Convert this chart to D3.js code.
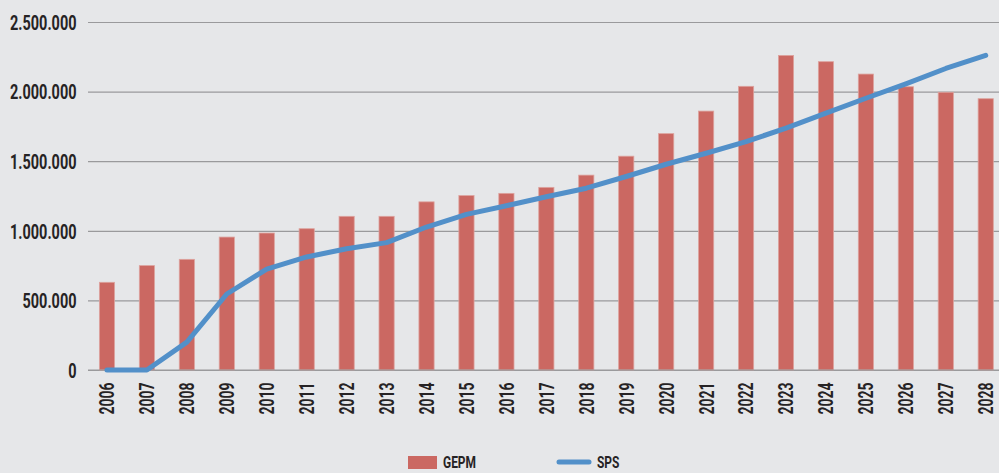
<!DOCTYPE html>
<html>
<head>
<meta charset="utf-8">
<script src="https://cdn.jsdelivr.net/npm/d3@7"></script>
<style>
  html, body { margin: 0; padding: 0; background: #e6e7e9; }
  svg { display: block; }
  text { font-family: Roboto, "DejaVu Sans Condensed", sans-serif; font-weight: 700; fill: #262324; }
</style>
</head>
<body>
<svg id="chart" width="999" height="473"></svg>
<script>
const years = ["2006","2007","2008","2009","2010","2011","2012","2013","2014","2015","2016","2017","2018","2019","2020","2021","2022","2023","2024","2025","2026","2027","2028"];
const gepm = [630000, 750000, 795000, 955000, 984000, 1015000, 1104000, 1104000, 1208000, 1253000, 1269000, 1312000, 1400000, 1536000, 1698000, 1860000, 2038000, 2260000, 2215000, 2126000, 2035000, 1995000, 1949000];
const sps = [0, 0, 200000, 546000, 725000, 812000, 871000, 915000, 1027000, 1118000, 1180000, 1245000, 1306000, 1390000, 1478000, 1557000, 1641000, 1737000, 1845000, 1952000, 2056000, 2166000, 2260000];
const yTicks = [0, 500000, 1000000, 1500000, 2000000, 2500000];
const seriesNames = ["GEPM", "SPS"];

const svg = d3.select("#chart");
const W = 999, H = 473;
svg.append("rect").attr("width", W).attr("height", H).attr("fill", "#e6e7e9");

const x = d3.scaleBand().domain(years).range([87, 1005.7]).paddingInner(0.62).paddingOuter(0.31);
const y = d3.scaleLinear().domain([0, 2500000]).range([370, 22]);

const loc = d3.formatLocale({decimal: ",", thousands: ".", grouping: [3], currency: ["", "€"]});
const fmt = loc.format(",d");

// condense text horizontally so that a reference string gets a target width
function condense(sel, refText, targetWidth) {
  let k = 1;
  sel.each(function() { if (this.textContent === refText) k = targetWidth / this.getComputedTextLength(); });
  sel.each(function() {
    const w = this.getComputedTextLength();
    d3.select(this).attr("textLength", w * k).attr("lengthAdjust", "spacingAndGlyphs");
  });
}

// gridlines + y labels
const yAxis = d3.axisLeft(y).tickValues(yTicks).tickFormat(fmt).tickSize(-(W - 88)).tickPadding(12);
const gy = svg.append("g").attr("transform", "translate(88,0)").call(yAxis);
gy.select(".domain").remove();
gy.selectAll(".tick line").attr("stroke", "#9a9a9c").attr("stroke-width", 1.2);
const ylab = gy.selectAll(".tick text").attr("font-size", 20).attr("fill", "#262324").attr("x", -11.5).attr("dy", "0.36em");
condense(ylab, "2.500.000", 66.5);

// bars
svg.append("g").selectAll("rect").data(years).join("rect")
  .attr("x", d => x(d))
  .attr("width", x.bandwidth())
  .attr("y", (d, i) => y(gepm[i]))
  .attr("height", (d, i) => y(0) - y(gepm[i]))
  .attr("fill", "#cb6862")
  .attr("stroke", "#dda39e")
  .attr("stroke-width", 0.8);

// baseline
svg.append("line").attr("x1", 88).attr("x2", W).attr("y1", y(0)).attr("y2", y(0))
  .attr("stroke", "#9a9a9c").attr("stroke-width", 1.2);

// SPS line
const line = d3.line().x((d, i) => x(years[i]) + x.bandwidth() / 2).y(d => y(d));
svg.append("path").datum(sps).attr("d", line)
  .attr("fill", "none").attr("stroke", "#5290c9").attr("stroke-width", 5)
  .attr("stroke-linecap", "round").attr("stroke-linejoin", "round");

// x labels
const xAxis = d3.axisBottom(x).tickSize(0).tickPadding(0);
const gx = svg.append("g").attr("transform", `translate(0,${y(0)})`).call(xAxis);
gx.select(".domain").remove();
const xlab = gx.selectAll(".tick text")
  .attr("font-size", 20.5).attr("fill", "#262324")
  .attr("transform", "rotate(-90)")
  .attr("text-anchor", "end")
  .attr("x", -12.5).attr("y", 0).attr("dy", "0.36em");
condense(xlab, "2006", 32);

// legend
const lg = svg.append("g");
lg.append("rect").attr("x", 408).attr("y", 456).attr("width", 29).attr("height", 13).attr("fill", "#cb6862");
lg.append("text").attr("x", 443).attr("y", 468.3).attr("font-size", 16.5).text(seriesNames[0]);
lg.append("line").attr("x1", 559).attr("x2", 589).attr("y1", 462).attr("y2", 462)
  .attr("stroke", "#5290c9").attr("stroke-width", 5).attr("stroke-linecap", "round");
lg.append("text").attr("x", 597).attr("y", 468.3).attr("font-size", 16.5).text(seriesNames[1]);
condense(lg.selectAll("text"), "GEPM", 33);
</script>
</body>
</html>
